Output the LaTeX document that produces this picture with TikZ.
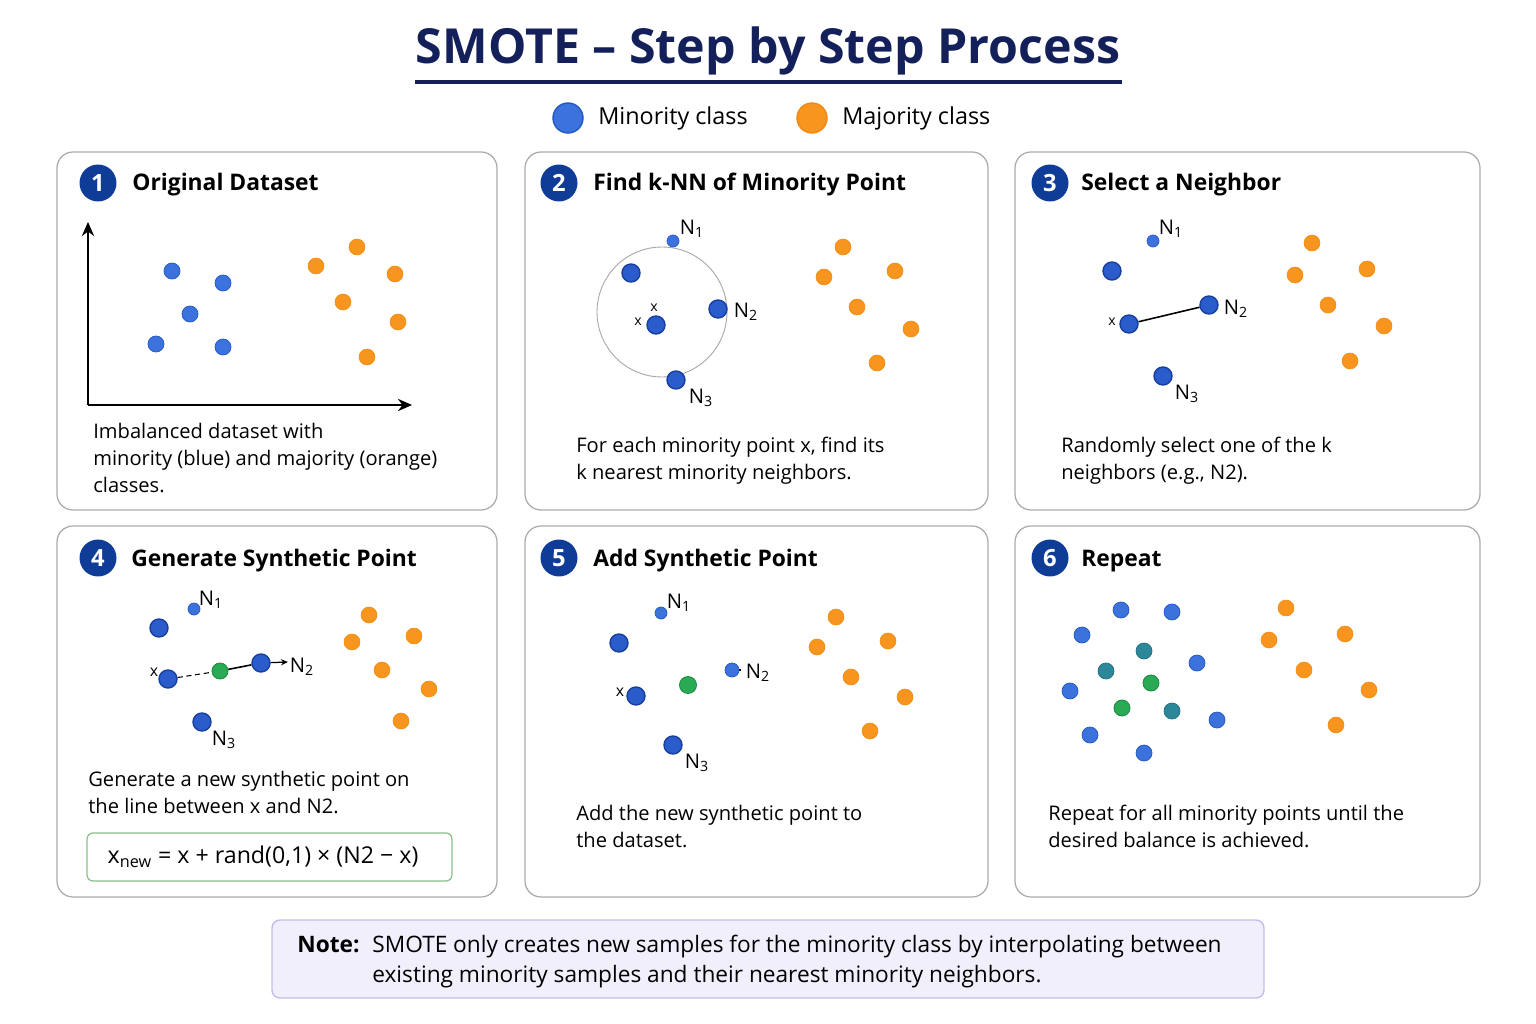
\documentclass[tikz,border=0pt]{standalone}
\usepackage{fontspec}
\setmainfont{Open Sans}
\usetikzlibrary{arrows.meta}
\definecolor{titlenavy}{HTML}{13205A}
\definecolor{badgeblue}{HTML}{0E3C97}
\definecolor{bluefill}{HTML}{3C72DC}
\definecolor{bluedraw}{HTML}{2358C2}
\definecolor{kfill}{HTML}{2A5CCB}
\definecolor{kdraw}{HTML}{173F9E}
\definecolor{orangefill}{HTML}{F8951E}
\definecolor{orangedraw}{HTML}{F08A10}
\definecolor{greenfill}{HTML}{2AAA55}
\definecolor{greendraw}{HTML}{1E8C45}
\definecolor{tealfill}{HTML}{2C8799}
\definecolor{tealdraw}{HTML}{207080}
\definecolor{panelgray}{HTML}{ABABAB}
\definecolor{notefill}{HTML}{F2EFFC}
\definecolor{notedraw}{HTML}{C6BBEA}
\definecolor{formdraw}{HTML}{8CC08A}
\begin{document}
\begin{tikzpicture}[x=0.02cm,y=-0.02cm,
  panel/.style={draw=panelgray, line width=0.7pt, rounded corners=0.32cm, fill=white},
  badge/.style={circle, fill=badgeblue, text=white, font=\fontsize{13.5}{13.5}\selectfont\bfseries, minimum size=0.74cm, inner sep=0},
  ptitle/.style={anchor=base west, inner sep=0, font=\fontsize{13}{15}\selectfont\bfseries},
  body/.style={anchor=north west, inner sep=0, align=left, font=\fontsize{11.45}{15.3}\selectfont},
  bdot/.style={circle, inner sep=0, minimum size=0.32cm, fill=bluefill, draw=bluedraw, line width=0.4pt},
  kdot/.style={circle, inner sep=0, minimum size=0.36cm, fill=kfill, draw=kdraw, line width=0.8pt},
  sdot/.style={circle, inner sep=0, minimum size=0.24cm, fill=bluefill, draw=bluedraw, line width=0.4pt},
  odot/.style={circle, inner sep=0, minimum size=0.32cm, fill=orangefill, draw=orangedraw, line width=0.3pt},
  gdot/.style={circle, inner sep=0, minimum size=0.32cm, fill=greenfill, draw=greendraw, line width=0.5pt},
  tdot/.style={circle, inner sep=0, minimum size=0.32cm, fill=tealfill, draw=tealdraw, line width=0.4pt},
  lbl/.style={inner sep=0, font=\fontsize{11.5}{11.5}\selectfont},
  xlbl/.style={inner sep=0, font=\fontsize{8}{8}\selectfont},
  legtext/.style={anchor=west, inner sep=0, font=\fontsize{13.3}{15}\selectfont},
]
\fill[white] (0,0) rectangle (1536,1024);
\useasboundingbox (0,0) rectangle (1536,1024);

% title
\node[inner sep=0, text=titlenavy, font=\fontsize{27.5}{32}\selectfont\bfseries] (title) at (768,51) {SMOTE – Step by Step Process};
\draw[titlenavy, line width=1.8pt] (415,82) -- (1122,82);

% legend
\node[bdot, minimum size=0.6cm, line width=0.8pt] (legb) at (568,118) {};
\node[legtext] (legbt) at (598,118) {Minority class};
\node[odot, minimum size=0.6cm, line width=0.8pt] (lego) at (812,118) {};
\node[legtext] (legot) at (842,118) {Majority class};

% panels
\draw[panel] (57,152) rectangle (497,510);
\draw[panel] (525,152) rectangle (988,510);
\draw[panel] (1015,152) rectangle (1480,510);
\draw[panel] (57,526) rectangle (497,897);
\draw[panel] (525,526) rectangle (988,897);
\draw[panel] (1015,526) rectangle (1480,897);

% badges and titles
\node[badge] (b1) at (98,183) {1};
\node[ptitle] (t1) at (132,191) {Original Dataset};
\node[badge] (b2) at (559,183) {2};
\node[ptitle] (t2) at (593,191) {Find k-NN of Minority Point};
\node[badge] (b3) at (1050,183) {3};
\node[ptitle] (t3) at (1081,191) {Select a Neighbor};
\node[badge] (b4) at (98,558) {4};
\node[ptitle] (t4) at (131,566) {Generate Synthetic Point};
\node[badge] (b5) at (559,558) {5};
\node[ptitle] (t5) at (593,566) {Add Synthetic Point};
\node[badge] (b6) at (1050,558) {6};
\node[ptitle] (t6) at (1081,566) {Repeat};

% ---------- panel 1
\coordinate (o1) at (88,405);
\coordinate (y1) at (88,222);
\coordinate (x1) at (412,405);
\draw[line width=1.3pt, -{Stealth[length=8pt,width=7pt]}] (o1) -- (y1);
\draw[line width=1.3pt, -{Stealth[length=8pt,width=7pt]}] (o1) -- (x1);
\node[bdot] (p1a) at (172,271) {};
\node[bdot] (p1b) at (223,283) {};
\node[bdot] (p1c) at (190,314) {};
\node[bdot] (p1d) at (156,344) {};
\node[bdot] (p1e) at (223,347) {};
\node[odot] (q1a) at (357,247) {};
\node[odot] (q1b) at (316,266) {};
\node[odot] (q1c) at (395,274) {};
\node[odot] (q1d) at (343,302) {};
\node[odot] (q1e) at (398,322) {};
\node[odot] (q1f) at (367,357) {};
\node[body] (d1) at (93,423) {Imbalanced dataset with\\minority (blue) and majority (orange)\\classes.};

% ---------- panel 2
\node[circle, draw=gray!70, line width=0.5pt, minimum size=2.6cm, inner sep=0] (ring2) at (662,312) {};
\node[sdot] (n12) at (673,241) {};
\node[lbl] (n12l) at (692,229) {N\textsubscript{1}};
\node[kdot] (o2a) at (631,273) {};
\node[kdot] (x2) at (656,325) {};
\node[xlbl] (x2l) at (654,308) {x};
\node[xlbl] (x2m) at (638,322) {x};
\node[kdot] (n22) at (718,309) {};
\node[lbl] (n22l) at (746,312) {N\textsubscript{2}};
\node[kdot] (n32) at (676,380) {};
\node[lbl] (n32l) at (701,398) {N\textsubscript{3}};
\node[odot] (q2a) at (843,247) {};
\node[odot] (q2b) at (824,277) {};
\node[odot] (q2c) at (895,271) {};
\node[odot] (q2d) at (857,307) {};
\node[odot] (q2e) at (911,329) {};
\node[odot] (q2f) at (877,363) {};
\node[body] (d2) at (576,437) {For each minority point x, find its\\k nearest minority neighbors.};

% ---------- panel 3
\node[sdot] (n13) at (1153,241) {};
\node[lbl] (n13l) at (1171,229) {N\textsubscript{1}};
\node[kdot] (o3a) at (1112,271) {};
\node[kdot] (x3) at (1129,324) {};
\node[xlbl] (x3l) at (1112,322) {x};
\node[kdot] (n23) at (1209,305) {};
\node[lbl] (n23l) at (1236,309) {N\textsubscript{2}};
\node[kdot] (n33) at (1163,376) {};
\node[lbl] (n33l) at (1187,394) {N\textsubscript{3}};
\draw[line width=0.9pt] (x3) -- (n23);
\node[odot] (q3a) at (1312,243) {};
\node[odot] (q3b) at (1295,275) {};
\node[odot] (q3c) at (1367,269) {};
\node[odot] (q3d) at (1328,305) {};
\node[odot] (q3e) at (1384,326) {};
\node[odot] (q3f) at (1350,361) {};
\node[body] (d3) at (1061,437) {Randomly select one of the k\\neighbors (e.g., N2).};

% ---------- panel 4
\node[sdot] (n14) at (194,609) {};
\node[lbl] (n14l) at (211,600) {N\textsubscript{1}};
\node[kdot] (o4a) at (159,628) {};
\node[kdot] (x4) at (168,679) {};
\node[xlbl, font=\fontsize{9}{9}\selectfont] (x4l) at (154,672) {x};
\node[gdot] (g4) at (220,671) {};
\node[kdot] (n24) at (261,663) {};
\coordinate (a4) at (288,662);
\node[lbl] (n24l) at (302,667) {N\textsubscript{2}};
\node[kdot] (n34) at (202,722) {};
\node[lbl] (n34l) at (224,740) {N\textsubscript{3}};
\draw[line width=0.6pt, dashed, dash pattern=on 3pt off 2pt] (x4) -- (g4);
\draw[line width=0.9pt] (g4) -- (n24);
\draw[line width=0.7pt, -{Stealth[length=4pt,width=3.5pt]}] (n24) -- (a4);
\node[odot] (q4a) at (369,615) {};
\node[odot] (q4b) at (352,642) {};
\node[odot] (q4c) at (414,636) {};
\node[odot] (q4d) at (382,670) {};
\node[odot] (q4e) at (429,689) {};
\node[odot] (q4f) at (401,721) {};
\node[body] (d4) at (88,771) {Generate a new synthetic point on\\the line between x and N2.};
\node[draw=formdraw, line width=0.7pt, rounded corners=0.12cm, minimum width=7.3cm, minimum height=0.96cm, inner sep=0] (f4) at (269.5,857) {};
\node[inner sep=0, font=\fontsize{13.2}{15}\selectfont] (f4t) at (263,857) {x\textsubscript{new} = x + rand(0,1) × (N2 − x)};

% ---------- panel 5
\node[sdot] (n15) at (661,613) {};
\node[lbl] (n15l) at (679,603) {N\textsubscript{1}};
\node[kdot] (o5a) at (619,643) {};
\node[kdot] (x5) at (636,696) {};
\node[xlbl, font=\fontsize{9}{9}\selectfont] (x5l) at (620,692) {x};
\node[gdot, minimum size=0.34cm] (g5) at (688,685) {};
\node[sdot, minimum size=0.28cm] (n25) at (732,670) {};
\coordinate (a5) at (741,670);
\draw[line width=0.8pt] (n25) -- (a5);
\node[lbl] (n25l) at (758,673) {N\textsubscript{2}};
\node[kdot] (n35) at (673,745) {};
\node[lbl] (n35l) at (697,763) {N\textsubscript{3}};
\node[odot] (q5a) at (836,617) {};
\node[odot] (q5b) at (817,647) {};
\node[odot] (q5c) at (888,641) {};
\node[odot] (q5d) at (851,677) {};
\node[odot] (q5e) at (905,697) {};
\node[odot] (q5f) at (870,731) {};
\node[body] (d5) at (576,805) {Add the new synthetic point to\\the dataset.};

% ---------- panel 6
\node[bdot] (p6a) at (1121,610) {};
\node[bdot] (p6b) at (1172,612) {};
\node[bdot] (p6c) at (1082,635) {};
\node[bdot] (p6d) at (1197,663) {};
\node[bdot] (p6e) at (1070,691) {};
\node[bdot] (p6f) at (1217,720) {};
\node[bdot] (p6g) at (1090,735) {};
\node[bdot] (p6h) at (1144,753) {};
\node[tdot] (t6a) at (1144,651) {};
\node[tdot] (t6b) at (1106,671) {};
\node[tdot] (t6c) at (1172,711) {};
\node[gdot] (g6a) at (1151,683) {};
\node[gdot] (g6b) at (1122,708) {};
\node[odot] (q6a) at (1286,608) {};
\node[odot] (q6b) at (1269,640) {};
\node[odot] (q6c) at (1345,634) {};
\node[odot] (q6d) at (1304,670) {};
\node[odot] (q6e) at (1369,690) {};
\node[odot] (q6f) at (1336,725) {};
\node[body] (d6) at (1048,805) {Repeat for all minority points until the\\desired balance is achieved.};

% ---------- note
\draw[fill=notefill, draw=notedraw, line width=0.8pt, rounded corners=0.16cm] (272,920) rectangle (1264,998);
\node[anchor=base west, inner sep=0, font=\fontsize{12.9}{15}\selectfont\bfseries] (nl) at (297,952) {Note:};
\node[anchor=north west, inner sep=0, align=left, font=\fontsize{12.9}{17}\selectfont] (nt) at (372,935) {SMOTE only creates new samples for the minority class by interpolating between\\existing minority samples and their nearest minority neighbors.};
\end{tikzpicture}
\end{document}
